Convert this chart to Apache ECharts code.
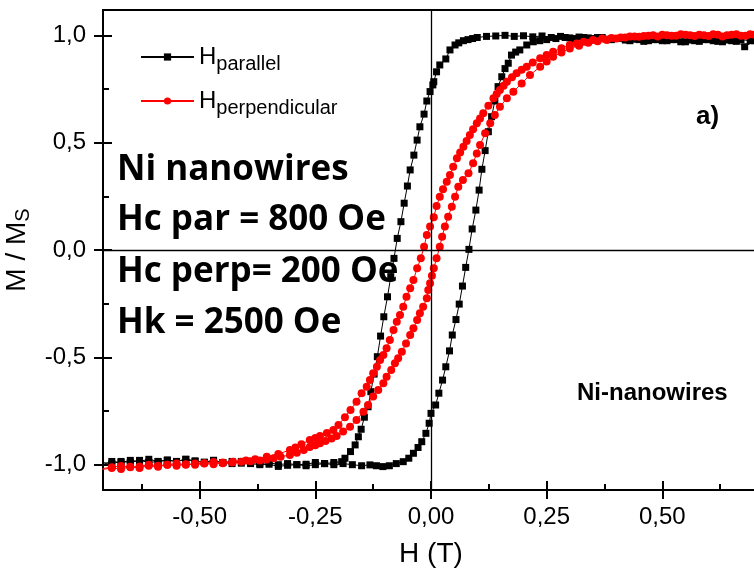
<!DOCTYPE html>
<html lang="en">

<head>
    <meta charset="UTF-8">
    <title>Ni nanowires - M/Ms</title>
    <script src="https://cdn.jsdelivr.net/npm/echarts@6.0.0/dist/echarts.min.js"></script>
    <style>
        body {
            margin: 0;
        }
    </style>
</head>

<body>
    <div id="chart" style="width: 754px;height:575px;"></div>
</body>
<script>
    // tick positions
    var xMajor = [-0.5, -0.25, 0, 0.25, 0.5];
    var xMinor = [-0.625, -0.375, -0.125, 0.125, 0.375, 0.625];
    var yMajor = [-1, -0.5, 0, 0.5, 1];
    var yMinor = [-0.75, -0.25, 0.25, 0.75];
    var legendNames = ['parallel', 'perpendicular'];

    // H parallel, field going down (H in T, M/Ms)
    var parDown = [[0.70, 0.975], [0.678, 0.947], [0.66, 0.972], [0.64, 0.978], [0.62, 0.972], [0.60, 0.98], [0.58, 0.972], [0.56, 0.978], [0.54, 0.97], [0.52, 0.98], [0.50, 0.975], [0.48, 0.98], [0.46, 0.972], [0.44, 0.982], [0.42, 0.978], [0.40, 0.985], [0.38, 0.982], [0.36, 0.99], [0.34, 0.988], [0.32, 0.992], [0.30, 0.988], [0.28, 0.995], [0.26, 0.99], [0.24, 0.997], [0.22, 0.993], [0.20, 0.998], [0.18, 0.995], [0.16, 1.0], [0.14, 0.997], [0.12, 0.995], [0.10, 0.99], [0.09, 0.985], [0.08, 0.98], [0.07, 0.975], [0.06, 0.965], [0.052, 0.955], [0.041, 0.932], [0.032, 0.89], [0.019, 0.862], [0.012, 0.83], [0.006, 0.784], [0.004, 0.769], [-0.002, 0.738], [-0.009, 0.694], [-0.015, 0.633], [-0.024, 0.574], [-0.030, 0.512], [-0.037, 0.442], [-0.045, 0.373], [-0.051, 0.298], [-0.058, 0.218], [-0.065, 0.132], [-0.073, 0.054], [-0.080, -0.039], [-0.087, -0.124], [-0.094, -0.218], [-0.102, -0.311], [-0.109, -0.401], [-0.116, -0.497], [-0.123, -0.578], [-0.130, -0.66], [-0.136, -0.73], [-0.144, -0.779], [-0.151, -0.835], [-0.157, -0.87], [-0.164, -0.908], [-0.174, -0.939], [-0.186, -0.97], [-0.193, -0.986], [-0.21, -0.99], [-0.23, -0.995], [-0.25, -0.99], [-0.27, -0.998], [-0.29, -1.0], [-0.31, -0.995], [-0.33, -1.0], [-0.35, -0.99], [-0.37, -0.995], [-0.39, -0.988], [-0.41, -0.993], [-0.43, -0.985], [-0.45, -0.99], [-0.47, -0.98], [-0.49, -0.988], [-0.51, -0.982], [-0.53, -0.975], [-0.55, -0.985], [-0.57, -0.978], [-0.59, -0.985], [-0.61, -0.99], [-0.63, -0.98], [-0.65, -0.99], [-0.67, -0.985], [-0.69, -0.995], [-0.71, -0.99]];

    // H parallel, field going up
    var parUp = [[-0.71, -1.0], [-0.69, -0.985], [-0.67, -0.99], [-0.65, -0.98], [-0.63, -0.985], [-0.61, -0.975], [-0.59, -0.985], [-0.57, -0.98], [-0.55, -0.985], [-0.53, -0.975], [-0.51, -0.985], [-0.49, -0.99], [-0.47, -0.98], [-0.45, -0.99], [-0.43, -0.995], [-0.41, -0.985], [-0.39, -0.995], [-0.37, -1.0], [-0.35, -0.998], [-0.33, -1.008], [-0.31, -1.003], [-0.29, -1.0], [-0.27, -1.005], [-0.25, -1.0], [-0.23, -0.995], [-0.21, -1.0], [-0.19, -0.995], [-0.17, -1.0], [-0.15, -1.005], [-0.132, -1.001], [-0.118, -1.005], [-0.104, -1.009], [-0.09, -1.005], [-0.075, -0.995], [-0.06, -0.986], [-0.048, -0.97], [-0.038, -0.947], [-0.028, -0.92], [-0.02, -0.893], [-0.011, -0.854], [-0.004, -0.807], [0.0, -0.761], [0.010, -0.722], [0.017, -0.667], [0.025, -0.606], [0.032, -0.544], [0.040, -0.47], [0.046, -0.396], [0.054, -0.324], [0.061, -0.252], [0.068, -0.168], [0.075, -0.081], [0.082, 0.003], [0.089, 0.098], [0.097, 0.186], [0.104, 0.279], [0.110, 0.376], [0.117, 0.463], [0.124, 0.551], [0.131, 0.621], [0.138, 0.694], [0.145, 0.761], [0.153, 0.807], [0.160, 0.845], [0.167, 0.87], [0.174, 0.908], [0.183, 0.922], [0.192, 0.932], [0.207, 0.955], [0.221, 0.97], [0.235, 0.975], [0.25, 0.98], [0.27, 0.985], [0.29, 0.99], [0.31, 0.985], [0.33, 0.99], [0.35, 0.985], [0.37, 0.99], [0.39, 0.98], [0.41, 0.985], [0.43, 0.975], [0.45, 0.98], [0.47, 0.975], [0.49, 0.98], [0.51, 0.975], [0.53, 0.98], [0.55, 0.97], [0.57, 0.975], [0.59, 0.98], [0.61, 0.975], [0.63, 0.97], [0.65, 0.975], [0.67, 0.98], [0.69, 0.975], [0.71, 0.98]];

    // H perpendicular, field going down
    var perpDown = [[0.71, 1.0], [0.69, 1.005], [0.67, 0.998], [0.65, 1.003], [0.63, 0.995], [0.61, 1.005], [0.59, 1.0], [0.57, 0.997], [0.55, 1.003], [0.53, 0.998], [0.51, 1.0], [0.49, 0.995], [0.47, 0.998], [0.45, 0.993], [0.43, 0.995], [0.41, 0.99], [0.39, 0.988], [0.37, 0.985], [0.35, 0.978], [0.33, 0.97], [0.315, 0.962], [0.30, 0.955], [0.282, 0.94], [0.264, 0.924], [0.25, 0.908], [0.236, 0.893], [0.22, 0.873], [0.207, 0.854], [0.196, 0.84], [0.185, 0.823], [0.175, 0.805], [0.164, 0.784], [0.157, 0.765], [0.149, 0.745], [0.142, 0.727], [0.135, 0.707], [0.124, 0.672], [0.113, 0.637], [0.106, 0.613], [0.099, 0.59], [0.091, 0.563], [0.084, 0.536], [0.077, 0.508], [0.070, 0.481], [0.063, 0.454], [0.056, 0.427], [0.048, 0.388], [0.041, 0.349], [0.034, 0.318], [0.026, 0.283], [0.019, 0.248], [0.012, 0.205], [0.006, 0.152], [-0.002, 0.109], [-0.009, 0.07], [-0.015, 0.015], [-0.022, -0.039], [-0.030, -0.085], [-0.038, -0.14], [-0.045, -0.178], [-0.053, -0.218], [-0.060, -0.264], [-0.067, -0.303], [-0.074, -0.334], [-0.081, -0.373], [-0.089, -0.419], [-0.096, -0.458], [-0.103, -0.489], [-0.110, -0.512], [-0.117, -0.544], [-0.125, -0.574], [-0.132, -0.606], [-0.139, -0.637], [-0.150, -0.667], [-0.161, -0.707], [-0.174, -0.745], [-0.186, -0.779], [-0.200, -0.815], [-0.211, -0.838], [-0.225, -0.852], [-0.24, -0.866], [-0.25, -0.876], [-0.262, -0.885], [-0.28, -0.905], [-0.293, -0.92], [-0.305, -0.932], [-0.33, -0.95], [-0.355, -0.963], [-0.38, -0.975], [-0.40, -0.98], [-0.428, -0.986], [-0.45, -0.99], [-0.47, -0.988], [-0.49, -0.993], [-0.51, -0.995], [-0.53, -1.0], [-0.55, -0.995], [-0.57, -1.0], [-0.59, -1.005], [-0.61, -1.0], [-0.63, -1.008], [-0.65, -1.012], [-0.67, -1.006], [-0.69, -1.012], [-0.71, -1.018]];

    // H perpendicular, field going up
    var perpUp = [[-0.71, -1.022], [-0.69, -1.016], [-0.67, -1.02], [-0.65, -1.01], [-0.63, -1.015], [-0.61, -1.005], [-0.59, -1.01], [-0.57, -1.0], [-0.55, -1.005], [-0.53, -0.998], [-0.51, -1.0], [-0.49, -0.995], [-0.47, -0.998], [-0.45, -0.993], [-0.43, -0.99], [-0.41, -0.986], [-0.39, -0.984], [-0.37, -0.98], [-0.355, -0.976], [-0.34, -0.97], [-0.325, -0.963], [-0.305, -0.955], [-0.29, -0.945], [-0.275, -0.932], [-0.262, -0.918], [-0.25, -0.91], [-0.24, -0.9], [-0.228, -0.89], [-0.215, -0.878], [-0.204, -0.866], [-0.19, -0.846], [-0.175, -0.823], [-0.161, -0.792], [-0.146, -0.753], [-0.136, -0.722], [-0.125, -0.683], [-0.114, -0.652], [-0.103, -0.621], [-0.096, -0.59], [-0.086, -0.559], [-0.078, -0.528], [-0.071, -0.504], [-0.063, -0.474], [-0.054, -0.435], [-0.045, -0.396], [-0.038, -0.365], [-0.030, -0.326], [-0.024, -0.295], [-0.017, -0.264], [-0.009, -0.225], [-0.006, -0.186], [-0.002, -0.155], [0.002, -0.12], [0.006, -0.085], [0.012, -0.039], [0.019, 0.015], [0.024, 0.062], [0.030, 0.109], [0.037, 0.155], [0.045, 0.202], [0.052, 0.248], [0.059, 0.295], [0.069, 0.326], [0.081, 0.357], [0.091, 0.404], [0.099, 0.45], [0.106, 0.489], [0.117, 0.544], [0.128, 0.59], [0.138, 0.629], [0.149, 0.667], [0.164, 0.707], [0.178, 0.737], [0.196, 0.776], [0.214, 0.815], [0.236, 0.854], [0.25, 0.878], [0.264, 0.9], [0.282, 0.92], [0.30, 0.939], [0.32, 0.952], [0.34, 0.965], [0.36, 0.972], [0.38, 0.978], [0.40, 0.985], [0.42, 0.99], [0.44, 0.995], [0.46, 0.997], [0.48, 1.0], [0.50, 1.003], [0.52, 0.998], [0.54, 1.005], [0.56, 1.0], [0.58, 1.003], [0.60, 0.997], [0.62, 1.003], [0.64, 1.0], [0.66, 1.005], [0.68, 0.998], [0.70, 1.003]];

    var font = 'Liberation Sans, Arial, sans-serif';
    var xRange = { min: -0.709, max: 0.709 };
    var yRange = { min: -1.118, max: 1.118 };
    var gridPos = { left: 103, right: -5, top: 10, bottom: 85, outerBoundsMode: 'none', containLabel: false };

    var chart = echarts.init(document.getElementById('chart'));

    // extra grids at the same place only carry the inner ticks
    function tickAxis(grid, values, len) {
        return {
            type: 'value',
            gridIndex: grid,
            axisLine: { show: false, onZero: false },
            axisTick: { show: true, inside: true, length: len, customValues: values, lineStyle: { color: '#000', width: 2 } },
            axisLabel: { show: false },
            splitLine: { show: false }
        };
    }

    var xAxes = [
        {
            type: 'value',
            gridIndex: 0,
            name: 'H (T)',
            nameLocation: 'middle',
            nameGap: 50,
            nameTextStyle: { fontSize: 28, color: '#000', fontFamily: font },
            axisLine: { onZero: false, lineStyle: { color: '#000', width: 2 } },
            axisTick: { customValues: xMajor, length: 9, lineStyle: { color: '#000', width: 2 } },
            axisLabel: {
                customValues: xMajor, fontSize: 24, color: '#000', fontFamily: font, margin: 15,
                formatter: function (v) { return v.toFixed(2).replace('.', ','); }
            },
            splitLine: { show: false }
        },
        tickAxis(1, xMajor, 9),
        tickAxis(2, xMinor, 6)
    ];
    var yAxes = [
        {
            type: 'value',
            gridIndex: 0,
            name: 'M / M{s|S}',
            nameLocation: 'middle',
            nameGap: 58,
            nameTextStyle: {
                fontSize: 28, color: '#000', fontFamily: font,
                rich: { s: { fontSize: 20, color: '#000', fontFamily: font, padding: [12, 0, 0, 0] } }
            },
            axisLine: { onZero: false, lineStyle: { color: '#000', width: 2 } },
            axisTick: { customValues: yMajor, length: 9, lineStyle: { color: '#000', width: 2 } },
            axisLabel: {
                customValues: yMajor, fontSize: 24, color: '#000', fontFamily: font, margin: 17,
                formatter: function (v) { return v.toFixed(1).replace('.', ','); }
            },
            splitLine: { show: false }
        },
        tickAxis(1, yMajor, 9),
        tickAxis(2, yMinor, 6)
    ];
    xAxes.forEach(function (a) { a.min = xRange.min; a.max = xRange.max; });
    yAxes.forEach(function (a) { a.min = yRange.min; a.max = yRange.max; });

    function loop(name, data, color, symbol, size) {
        return {
            name: name,
            type: 'line',
            data: data,
            symbol: symbol,
            symbolSize: size,
            itemStyle: { color: color },
            lineStyle: { color: color, width: 1 },
            silent: true
        };
    }

    var series = [
        loop(legendNames[0], parDown, '#000', 'rect', 7),
        loop(legendNames[0], parUp, '#000', 'rect', 7),
        loop(legendNames[1], perpDown, '#ff0000', 'circle', 8),
        loop(legendNames[1], perpUp, '#ff0000', 'circle', 8)
    ];
    // the two lines through the origin
    series[0].markLine = {
        silent: true,
        symbol: 'none',
        label: { show: false },
        lineStyle: { color: '#000', width: 1.3, type: 'solid' },
        data: [{ xAxis: 0 }, { yAxis: 0 }]
    };

    var bigText = { fontSize: 35, fontWeight: 'bold', fontFamily: 'Open Sans, sans-serif', fill: '#000', verticalAlign: 'middle' };
    var notes = ['Ni nanowires', 'Hc par = 800 Oe', 'Hc perp= 200 Oe', 'Hk = 2500 Oe'];
    var notesY = [170, 220, 272, 323];

    var graphics = notes.map(function (t, i) {
        return { type: 'text', left: 117, top: notesY[i] - 17, style: Object.assign({ text: t }, bigText) };
    });
    graphics.push({ type: 'text', left: 696, top: 104, style: { text: 'a)', fontSize: 26, fontWeight: 'bold', fontFamily: font, fill: '#000' } });
    graphics.push({ type: 'text', left: 577, top: 381, style: { text: 'Ni-nanowires', fontSize: 24, fontWeight: 'bold', fontFamily: font, fill: '#000' } });

    var option = {
        animation: false,
        backgroundColor: '#fff',
        grid: [
            Object.assign({ show: true, borderColor: '#000', borderWidth: 2, backgroundColor: 'transparent' }, gridPos),
            Object.assign({}, gridPos),
            Object.assign({}, gridPos)
        ],
        xAxis: xAxes,
        yAxis: yAxes,
        legend: {
            data: legendNames,
            orient: 'vertical',
            left: 135,
            top: 40,
            itemWidth: 53,
            itemHeight: 9,
            itemGap: 15,
            formatter: function (name) { return '{h|H}{s|' + name + '}'; },
            textStyle: {
                color: '#000',
                rich: {
                    h: { fontSize: 24, fontFamily: font, color: '#000' },
                    s: { fontSize: 20, fontFamily: font, color: '#000', padding: [14, 0, 0, 0] }
                }
            }
        },
        graphic: graphics,
        series: series
    };

    chart.setOption(option);
</script>

</html>
